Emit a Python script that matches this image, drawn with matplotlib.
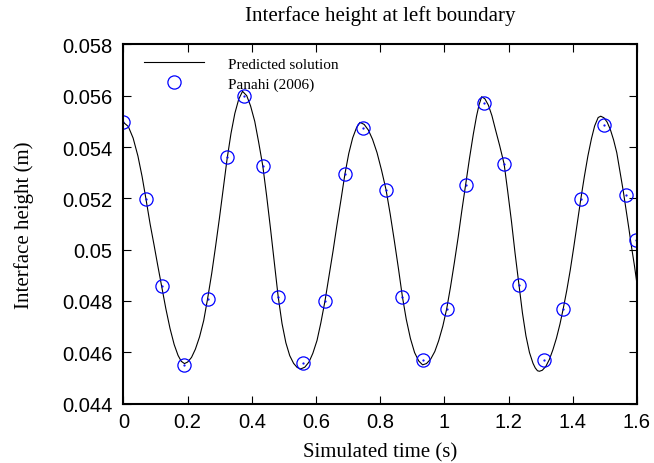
import matplotlib.pyplot as plt
from matplotlib.ticker import FuncFormatter

# predicted solution (time s, height m)
t_pred = [0.000, 0.015, 0.030, 0.045, 0.058, 0.070, 0.083, 0.095, 0.107, 0.119,
          0.132, 0.145, 0.158, 0.170, 0.180, 0.190, 0.200, 0.212, 0.224, 0.237,
          0.250, 0.262, 0.275, 0.287, 0.299, 0.311, 0.323, 0.335, 0.347, 0.359,
          0.371, 0.384, 0.396, 0.409, 0.421, 0.434, 0.446, 0.458, 0.470, 0.482,
          0.494, 0.506, 0.518, 0.530, 0.541, 0.552, 0.565, 0.578, 0.590, 0.603,
          0.615, 0.628, 0.640, 0.653, 0.665, 0.678, 0.690, 0.702, 0.714, 0.726,
          0.737, 0.750, 0.763, 0.776, 0.790, 0.804, 0.818, 0.831, 0.844, 0.857,
          0.869, 0.881, 0.894, 0.907, 0.920, 0.932, 0.944, 0.957, 0.970, 0.982,
          0.995, 1.007, 1.019, 1.031, 1.043, 1.054, 1.066, 1.078, 1.090, 1.100,
          1.108, 1.116, 1.126, 1.137, 1.148, 1.159, 1.172, 1.186, 1.197, 1.209,
          1.220, 1.232, 1.243, 1.254, 1.265, 1.276, 1.283, 1.290, 1.296, 1.305,
          1.316, 1.327, 1.338, 1.349, 1.360, 1.370, 1.381, 1.392, 1.403, 1.414,
          1.425, 1.436, 1.447, 1.458, 1.468, 1.479, 1.487, 1.497, 1.507, 1.517,
          1.527, 1.537, 1.547, 1.557, 1.566, 1.575, 1.583, 1.592, 1.600]
h_pred = [0.05496, 0.05480, 0.05435, 0.05365, 0.05285, 0.05198, 0.05100, 0.05020, 0.04937, 0.04857,
          0.04770, 0.04693, 0.04630, 0.04588, 0.04565, 0.04556, 0.04562, 0.04580, 0.04612, 0.04660,
          0.04724, 0.04808, 0.04908, 0.05013, 0.05123, 0.05238, 0.05355, 0.05453, 0.05531, 0.05586,
          0.05617, 0.05600, 0.05560, 0.05500, 0.05420, 0.05327, 0.05210, 0.05083, 0.04950, 0.04817,
          0.04712, 0.04637, 0.04587, 0.04557, 0.04541, 0.04535, 0.04542, 0.04562, 0.04596, 0.04646,
          0.04715, 0.04801, 0.04895, 0.04995, 0.05095, 0.05197, 0.05295, 0.05375, 0.05435, 0.05475,
          0.05496, 0.05488, 0.05466, 0.05430, 0.05378, 0.05310, 0.05234, 0.05139, 0.05034, 0.04924,
          0.04817, 0.04729, 0.04654, 0.04599, 0.04566, 0.04551, 0.04556, 0.04573, 0.04603, 0.04645,
          0.04702, 0.04769, 0.04855, 0.04950, 0.05050, 0.05150, 0.05253, 0.05355, 0.05450, 0.05520,
          0.05565, 0.05596, 0.05588, 0.05563, 0.05522, 0.05468, 0.05406, 0.05334, 0.05229, 0.05109,
          0.04987, 0.04864, 0.04754, 0.04664, 0.04599, 0.04557, 0.04539, 0.04528, 0.04526, 0.04530,
          0.04545, 0.04572, 0.04610, 0.04655, 0.04710, 0.04769, 0.04840, 0.04920, 0.05010, 0.05105,
          0.05198, 0.05285, 0.05365, 0.05432, 0.05482, 0.05515, 0.05520, 0.05514, 0.05497, 0.05468,
          0.05428, 0.05378, 0.05305, 0.05230, 0.05155, 0.05080, 0.05010, 0.04938, 0.04866]

# Panahi (2006) reference points
t_ref = [0.000, 0.070, 0.119, 0.189, 0.262, 0.323, 0.375, 0.434, 0.482, 0.558,
         0.628, 0.690, 0.745, 0.818, 0.869, 0.934, 1.007, 1.066, 1.123, 1.186,
         1.232, 1.310, 1.370, 1.425, 1.496, 1.565, 1.596]
h_ref = [0.05496, 0.05198, 0.04857, 0.04551, 0.04808, 0.05360, 0.05600, 0.05327, 0.04817, 0.04557,
         0.04801, 0.05295, 0.05474, 0.05234, 0.04817, 0.04571, 0.04769, 0.05253, 0.05570, 0.05334,
         0.04864, 0.04570, 0.04769, 0.05198, 0.05487, 0.05213, 0.05038]

xticks = [0, 0.2, 0.4, 0.6, 0.8, 1.0, 1.2, 1.4, 1.6]
yticks = [0.044, 0.046, 0.048, 0.050, 0.052, 0.054, 0.056, 0.058]

serif = 'Liberation Serif'
sans = 'Liberation Sans'

fig = plt.figure(figsize=(6.54, 4.64), dpi=100)
ax = fig.add_axes([0.1888, 0.128, 0.7852, 0.7742])

ax.plot(t_pred, h_pred, color='black', lw=0.8, label='Predicted solution')
ax.plot(t_ref, h_ref, linestyle='none', marker='o', ms=9.5, mfc='none',
        mec='#0000ff', mew=0.9, label='Panahi (2006)')
ax.plot(t_ref, h_ref, linestyle='none', marker='.', ms=1.2, color='#0000ff')

ax.set_xlim(0, 1.6)
ax.set_ylim(0.044, 0.058)
ax.set_xticks(xticks)
ax.set_yticks(yticks)
fmt = FuncFormatter(lambda v, p: '%g' % round(v, 4))
ax.xaxis.set_major_formatter(fmt)
ax.yaxis.set_major_formatter(fmt)

ax.tick_params(direction='in', length=6, width=0.8, top=True, right=True,
               labelsize=14.5)
ax.tick_params(axis='y', pad=8)
ax.tick_params(axis='x', pad=6)
for lab in ax.get_xticklabels() + ax.get_yticklabels():
    lab.set_fontfamily(sans)
for s in ax.spines.values():
    s.set_linewidth(1.5)

ax.set_title('Interface height at left boundary', fontfamily=serif, fontsize=15, pad=17.5)
ax.set_xlabel('Simulated time (s)', fontfamily=serif, fontsize=15, labelpad=8)
ax.set_ylabel('Interface height (m)', fontfamily=serif, fontsize=15, labelpad=20)

ax.legend(loc='upper left', bbox_to_anchor=(0.04, 0.965), frameon=False,
          prop={'family': serif, 'size': 11}, handlelength=3.9, handletextpad=1.6,
          labelspacing=0.4, borderpad=0, borderaxespad=0)

fig.savefig('out.png', dpi=100)
